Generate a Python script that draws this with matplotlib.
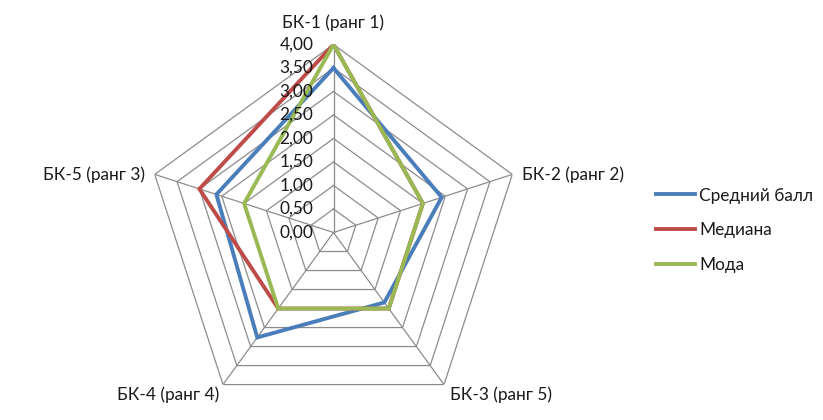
import numpy as np
import matplotlib
matplotlib.use("Agg")
import matplotlib.pyplot as plt

categories = ["БК-1 (ранг 1)", "БК-2 (ранг 2)", "БК-3 (ранг 5)", "БК-4 (ранг 4)", "БК-5 (ранг 3)"]
mean_vals = [3.5, 2.42, 1.84, 2.76, 2.62]
median_vals = [4.0, 2.0, 2.0, 2.0, 3.0]
mode_vals = [4.0, 2.0, 2.0, 2.0, 2.0]
series_names = ["Средний балл", "Медиана", "Мода"]
ring_values = [0.0, 0.5, 1.0, 1.5, 2.0, 2.5, 3.0, 3.5, 4.0]
ring_labels = ["0,00", "0,50", "1,00", "1,50", "2,00", "2,50", "3,00", "3,50", "4,00"]

plt.rcParams['font.family'] = ['Lato', 'DejaVu Sans']

W, H = 823, 420
fig = plt.figure(figsize=(W / 100, H / 100), dpi=100)
cx, cy, R = 333.5, 232.5, 188.0
ax = fig.add_axes([(cx - R) / W, (H - cy - R) / H, 2 * R / W, 2 * R / H], projection='polar')
ax.set_theta_offset(np.pi / 2)
ax.set_theta_direction(-1)
ax.set_ylim(0, 4)
ax.grid(False)
ax.spines['polar'].set_visible(False)
ax.set_xticks([])
ax.set_yticks([])
ax.patch.set_alpha(0)

n = len(categories)
theta = np.linspace(0, 2 * np.pi, n, endpoint=False)
theta_c = np.append(theta, theta[0])

gcol = '#8c8c8c'
for r in ring_values[1:]:
    ax.plot(theta_c, [r] * (n + 1), color=gcol, lw=0.9, zorder=1)
for t in theta:
    ax.plot([t, t], [0, 4], color=gcol, lw=0.9, zorder=1)

colors = ['#4a7ebb', '#be4b48', '#98b954']
for vals, col, name in zip([mean_vals, median_vals, mode_vals], colors, series_names):
    v = np.append(vals, vals[0])
    ax.plot(theta_c, v, color=col, lw=2.8, label=name, zorder=3, solid_joinstyle='miter')

fs = 12.4
tcol = '#1a1a1a'
for r, lab in zip(ring_values, ring_labels):
    ax.annotate(lab, xy=(0, r), xytext=(-20, 0), textcoords='offset pixels',
                ha='right', va='center', fontsize=fs, color=tcol, zorder=5)

offs = [((0, 22), 'center', 'center'),
        ((10, 0), 'left', 'center'),
        ((6, -10), 'left', 'center'),
        ((-4, -10), 'right', 'center'),
        ((-10, 0), 'right', 'center')]
for t, lab, (off, ha, va) in zip(theta, categories, offs):
    ax.annotate(lab, xy=(t, 4), xytext=off, textcoords='offset pixels',
                ha=ha, va=va, fontsize=fs, color=tcol, annotation_clip=False)

leg = fig.legend(loc='upper left', bbox_to_anchor=(640 / W, 1 - 172 / H), frameon=False,
                 fontsize=fs, handlelength=2.3, handletextpad=0.25, labelspacing=1.1)
for t in leg.get_texts():
    t.set_color(tcol)

fig.savefig('out.png', dpi=100)
